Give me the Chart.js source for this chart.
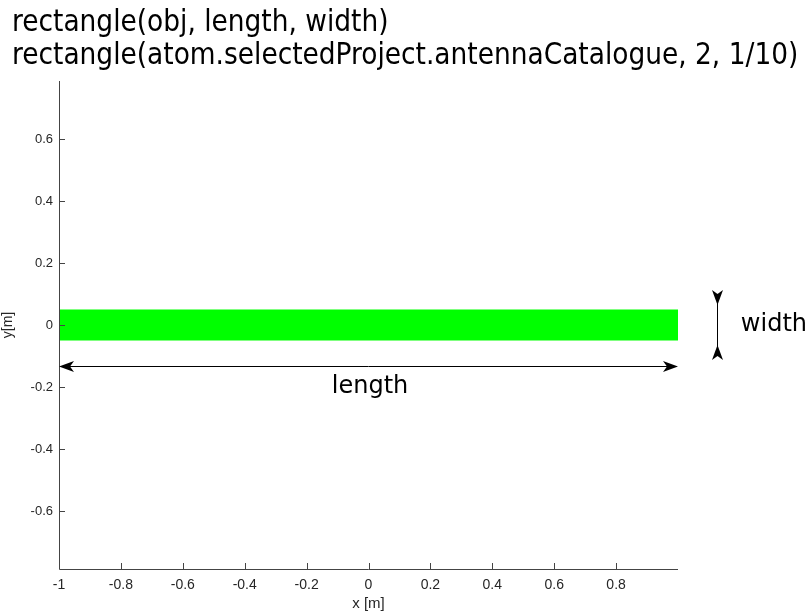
<!DOCTYPE html>
<html>
<head>
<meta charset="utf-8">
<script src="https://cdn.jsdelivr.net/npm/chart.js@4/dist/chart.umd.min.js"></script>
<style>
    html, body { margin: 0; padding: 0; background: #fff; }
    #zone { width: 810px; height: 613px; }
</style>
</head>
<body>
<div id="zone"><canvas id="graphique"></canvas></div>
<script>
// donnees
const titres = ['rectangle(obj, length, width)', 'rectangle(atom.selectedProject.antennaCatalogue, 2, 1/10)'];
const rectX = [-1, 1];
const rectHaut = [0.05, 0.05];
const rectBas = [-0.05, -0.05];
const ticksX = [-1, -0.8, -0.6, -0.4, -0.2, 0, 0.2, 0.4, 0.6, 0.8];
const ticksY = [-0.6, -0.4, -0.2, 0, 0.2, 0.4, 0.6];
const limitesX = [-1, 1];
const limitesY = [-0.787, 0.787];

// cotes (fleches)
const flecheLongueur = { x: [-1, 1], y: -0.132 };
const flecheLargeur = { x: 1.126, y: [0.113, -0.113] };
const texteLongueur = { x: 0.005, y: -0.198, texte: 'length' };
const texteLargeur = { x: 1.31, y: 0, texte: 'width' };

const couleurAxe = '#444444';

function pointe(ctx, tx, ty, dx, dy) {
    // pointe pleine, dos creuse
    const L = 15, W = 5.5, C = 4;
    const nx = -dy, ny = dx;
    const bx = tx - dx * L, by = ty - dy * L;
    ctx.beginPath();
    ctx.moveTo(tx, ty);
    ctx.lineTo(bx + nx * W, by + ny * W);
    ctx.lineTo(tx - dx * (L - C), ty - dy * (L - C));
    ctx.lineTo(bx - nx * W, by - ny * W);
    ctx.closePath();
    ctx.fill();
}

const dessinPlugin = {
    id: 'dessin',
    afterDraw(chart) {
        const ctx = chart.ctx;
        const sx = chart.scales.x, sy = chart.scales.y;
        const area = chart.chartArea;
        ctx.save();

        // axes et graduations vers l'interieur
        ctx.strokeStyle = couleurAxe;
        ctx.lineWidth = 1;
        ctx.beginPath();
        ctx.moveTo(area.left + 0.5, area.top);
        ctx.lineTo(area.left + 0.5, area.bottom + 0.5);
        ctx.lineTo(area.right, area.bottom + 0.5);
        ticksX.forEach(v => {
            const px = Math.round(sx.getPixelForValue(v)) + 0.5;
            ctx.moveTo(px, area.bottom);
            ctx.lineTo(px, area.bottom - 6);
        });
        ticksY.forEach(v => {
            const py = Math.round(sy.getPixelForValue(v)) + 0.5;
            ctx.moveTo(area.left, py);
            ctx.lineTo(area.left + 6, py);
        });
        ctx.stroke();

        // titre, ajuste a la largeur de la figure
        ctx.fillStyle = '#000';
        ctx.textAlign = 'left';
        ctx.textBaseline = 'middle';
        ctx.font = '25px "DejaVu Sans Condensed", "DejaVu Sans", sans-serif';
        const taille = 25 * 786 / ctx.measureText(titres[1]).width;
        ctx.font = taille.toFixed(1) + 'px "DejaVu Sans Condensed", "DejaVu Sans", sans-serif';
        ctx.fillText(titres[0], 12, 23);
        ctx.fillText(titres[1], 12, 56);

        // fleche longueur
        ctx.strokeStyle = '#000';
        ctx.fillStyle = '#000';
        const y1 = Math.round(sy.getPixelForValue(flecheLongueur.y)) + 0.5;
        const xa = sx.getPixelForValue(flecheLongueur.x[0]);
        const xb = sx.getPixelForValue(flecheLongueur.x[1]);
        ctx.beginPath();
        ctx.moveTo(xa + 5, y1);
        ctx.lineTo(xb - 5, y1);
        ctx.stroke();
        pointe(ctx, xa, y1, -1, 0);
        pointe(ctx, xb, y1, 1, 0);

        // fleche largeur
        const x2 = Math.round(sx.getPixelForValue(flecheLargeur.x)) + 0.5;
        const ya = sy.getPixelForValue(flecheLargeur.y[0]);
        const yb = sy.getPixelForValue(flecheLargeur.y[1]);
        ctx.beginPath();
        ctx.moveTo(x2, ya + 4);
        ctx.lineTo(x2, yb - 4);
        ctx.stroke();
        pointe(ctx, x2, ya + 15, 0, 1);
        pointe(ctx, x2, yb - 15, 0, -1);

        // textes
        ctx.font = '24px "DejaVu Sans", sans-serif';
        ctx.textAlign = 'center';
        ctx.fillText(texteLongueur.texte, sx.getPixelForValue(texteLongueur.x), sy.getPixelForValue(texteLongueur.y));
        ctx.fillText(texteLargeur.texte, sx.getPixelForValue(texteLargeur.x), sy.getPixelForValue(texteLargeur.y));

        ctx.restore();
    }
};

const graphique = document.getElementById('graphique');

new Chart(graphique, {
    type: 'scatter',
    data: {
        datasets: [{
            data: rectX.map((x, i) => ({ x: x, y: rectHaut[i] })),
            showLine: true,
            borderColor: '#00ff00',
            backgroundColor: '#00ff00',
            borderWidth: 0,
            pointRadius: 0,
            fill: '+1'
        }, {
            data: rectX.map((x, i) => ({ x: x, y: rectBas[i] })),
            showLine: true,
            borderColor: '#00ff00',
            borderWidth: 0,
            pointRadius: 0,
            fill: false
        }]
    },
    options: {
        responsive: true,
        maintainAspectRatio: false,
        animation: false,
        layout: {
            padding: { top: 81, right: 132, left: 0, bottom: 0 }
        },
        plugins: {
            legend: { display: false },
            tooltip: { enabled: false }
        },
        scales: {
            x: {
                type: 'linear',
                min: limitesX[0],
                max: limitesX[1],
                afterBuildTicks: s => { s.ticks = ticksX.map(v => ({ value: v })); },
                afterFit: s => { s.height = 44; },
                grid: { display: false, drawTicks: false },
                border: { display: false },
                ticks: {
                    padding: 8,
                    color: '#262626',
                    font: { family: '"Liberation Sans Narrow", "Liberation Sans", Arial', size: 14 },
                    maxRotation: 0,
                    callback: v => String(v)
                },
                title: {
                    display: true,
                    text: 'x [m]',
                    color: '#262626',
                    padding: { top: 0, bottom: 0 },
                    font: { family: '"Liberation Sans Narrow", "Liberation Sans", Arial', size: 15 }
                }
            },
            y: {
                type: 'linear',
                min: limitesY[0],
                max: limitesY[1],
                afterBuildTicks: s => { s.ticks = ticksY.map(v => ({ value: v })); },
                afterFit: s => { s.width = 59; },
                grid: { display: false, drawTicks: false },
                border: { display: false },
                ticks: {
                    padding: 6,
                    color: '#262626',
                    font: { family: '"Liberation Sans", Arial', size: 13 },
                    callback: v => String(v)
                },
                title: {
                    display: true,
                    text: 'y[m]',
                    color: '#262626',
                    padding: { top: 0, bottom: 0 },
                    font: { family: '"Liberation Sans", Arial', size: 14 }
                }
            }
        }
    },
    plugins: [dessinPlugin]
});
</script>
</body>
</html>
